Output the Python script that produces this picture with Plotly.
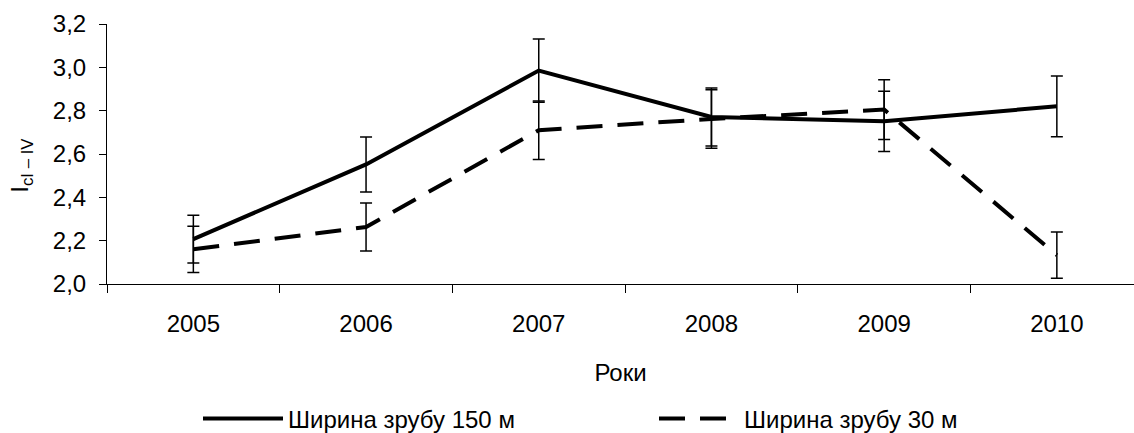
import plotly.graph_objects as go

years = ["2005", "2006", "2007", "2008", "2009", "2010"]
w150 = [2.207, 2.552, 2.985, 2.771, 2.751, 2.820]
w150_err = [0.110, 0.127, 0.146, 0.134, 0.139, 0.140]
w30 = [2.160, 2.263, 2.710, 2.762, 2.805, 2.133]
w30_err = [0.107, 0.111, 0.135, 0.135, 0.138, 0.107]
ytick_vals = [2.0, 2.2, 2.4, 2.6, 2.8, 3.0, 3.2]
ytick_text = ["2,0", "2,2", "2,4", "2,6", "2,8", "3,0", "3,2"]
name150 = "Ширина зрубу 150 м"
name30 = "Ширина зрубу 30 м"

FONT = "Liberation Sans, Arial, Helvetica, sans-serif"
W, H = 1134, 433
ML, MT, MB = 107, 24, 148.5
plot_w = W - ML
plot_h = H - MT - MB
cat_w = 172.7

fig = go.Figure()
fig.add_trace(go.Scatter(
    x=years, y=w150, name=name150, mode="lines",
    line=dict(color="black", width=4),
    error_y=dict(type="data", array=w150_err, visible=True,
                 color="black", thickness=1.5, width=6),
))
fig.add_trace(go.Scatter(
    x=years, y=w30, name=name30, mode="lines",
    line=dict(color="black", width=4, dash="26px,15px"),
    error_y=dict(type="data", array=w30_err, visible=True,
                 color="black", thickness=1.5, width=6),
))

fig.update_layout(
    width=W, height=H,
    margin=dict(l=ML, r=0, t=MT, b=MB, pad=0, autoexpand=False),
    paper_bgcolor="white", plot_bgcolor="white",
    font=dict(family=FONT, size=24, color="black"),
    showlegend=True,
    legend=dict(orientation="h", xref="container", yref="container",
                x=198 / W, xanchor="left",
                y=1 - 419 / H, yanchor="middle",
                itemwidth=80, entrywidth=361, entrywidthmode="pixels",
                font=dict(size=24), bgcolor="rgba(0,0,0,0)"),
    xaxis=dict(
        type="category", range=[-0.5, -0.5 + plot_w / cat_w],
        showline=True, linecolor="black", linewidth=1,
        ticks="outside", ticklen=8, tickcolor="black", tickwidth=1,
        tickson="boundaries", showgrid=False, zeroline=False,
        ticklabelstandoff=18, automargin=False,
        title=dict(text="Роки", standoff=28, font=dict(size=24)),
    ),
    yaxis=dict(
        range=[2.0, 3.2], tickvals=ytick_vals, ticktext=ytick_text,
        showline=True, linecolor="black", linewidth=1,
        ticks="outside", ticklen=7, tickcolor="black", tickwidth=1,
        showgrid=False, zeroline=False, ticklabelstandoff=8,
        automargin=False,
    ),
    annotations=[dict(
        text="I<sub>cI – IV</sub>", textangle=-90, showarrow=False,
        xref="paper", yref="paper",
        x=-(ML - 22) / plot_w, y=(284.5 - 166) / plot_h,
        xanchor="center", yanchor="middle", font=dict(size=24),
    )],
)

fig.write_html("out.html")
